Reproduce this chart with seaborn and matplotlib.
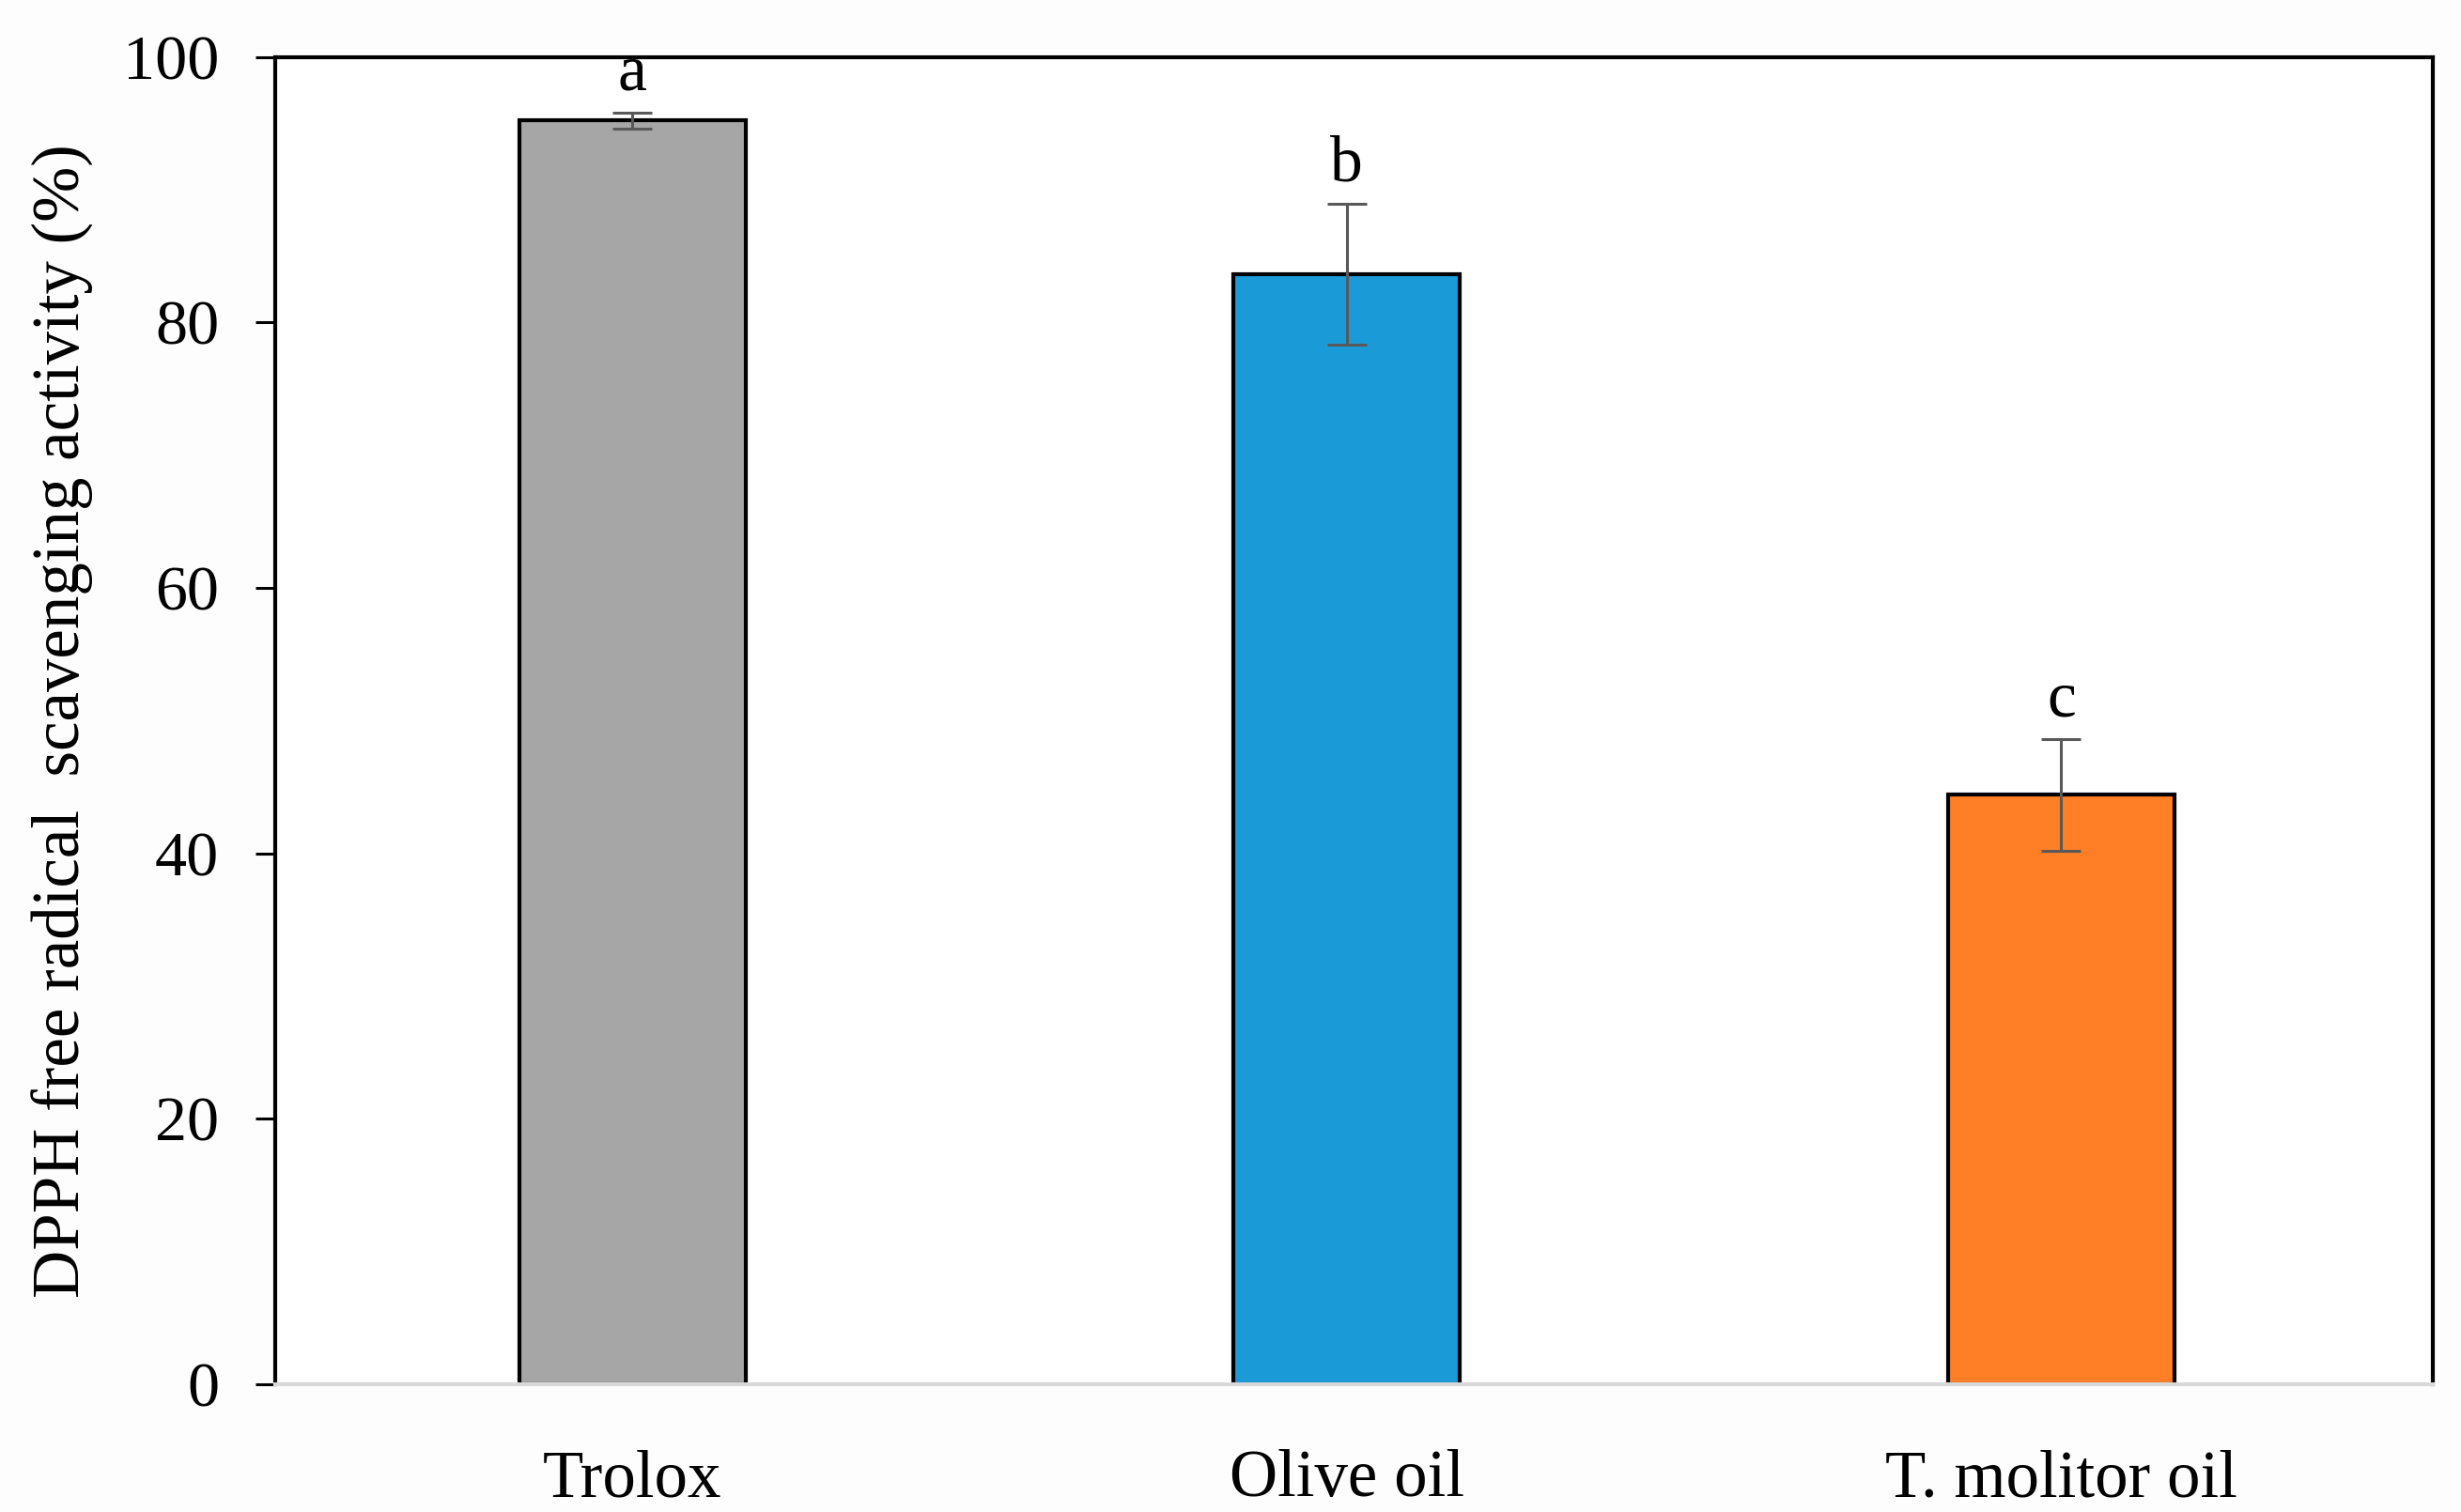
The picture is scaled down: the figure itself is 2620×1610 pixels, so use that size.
import matplotlib
matplotlib.use('Agg')
import matplotlib.pyplot as plt
import seaborn as sns
import pandas as pd

# values
samples = ['Trolox', 'Olive oil', 'T. molitor oil']
activity = [95.2, 83.6, 44.4]
errors = [0.6, 5.3, 4.2]
letters = ['a', 'b', 'c']
bar_colors = ['#A6A6A6', '#1A9BD7', '#FE7F26']

df = pd.DataFrame({'sample': samples, 'activity': activity})

sns.set_style('white')
plt.rcParams['font.family'] = ['Liberation Serif', 'DejaVu Serif']
plt.rcParams['text.color'] = 'black'
plt.rcParams['axes.labelcolor'] = 'black'
plt.rcParams['xtick.color'] = 'black'
plt.rcParams['ytick.color'] = 'black'

fig = plt.figure(figsize=(26.2, 16.1), dpi=100)
fig.patch.set_facecolor('#FDFDFD')
ax = fig.add_axes([0.1118, 0.0845, 0.8767, 0.8779])

sns.barplot(data=df, x='sample', y='activity', hue='sample', palette=bar_colors,
            width=0.317, errorbar=None, legend=False, edgecolor='black',
            linewidth=3, saturation=1, ax=ax)

# error bars
ax.errorbar(range(len(samples)), activity, yerr=errors, fmt='none',
            ecolor='#595959', elinewidth=2.2, capsize=15, capthick=2.2, zorder=5)

# significance letters
for i, (m, e, l) in enumerate(zip(activity, errors, letters)):
    ax.annotate(l, xy=(i, m + e), xytext=(0, 7), textcoords='offset points',
                ha='center', va='bottom', fontsize=50, color='black')

ax.set_xlim(-0.5, 2.52)
ax.set_ylim(0, 100)
ax.set_yticks([0, 20, 40, 60, 80, 100])
ax.set_xlabel('')
ax.set_ylabel('DPPH free radical  scavenging activity (%)', fontsize=51,
              labelpad=22, color='black')
ax.tick_params(axis='y', direction='out', length=15, width=2.2, colors='black',
               labelsize=49, pad=28, left=True)
ax.tick_params(axis='x', length=0, labelsize=51, pad=50, colors='black')

for side in ['left', 'top', 'right']:
    ax.spines[side].set_color('black')
    ax.spines[side].set_linewidth(3)
    ax.spines[side].set_visible(True)
ax.spines['bottom'].set_color('#D9D9D9')
ax.spines['bottom'].set_linewidth(3)

fig.savefig('out.png', dpi=100, facecolor=fig.get_facecolor())
